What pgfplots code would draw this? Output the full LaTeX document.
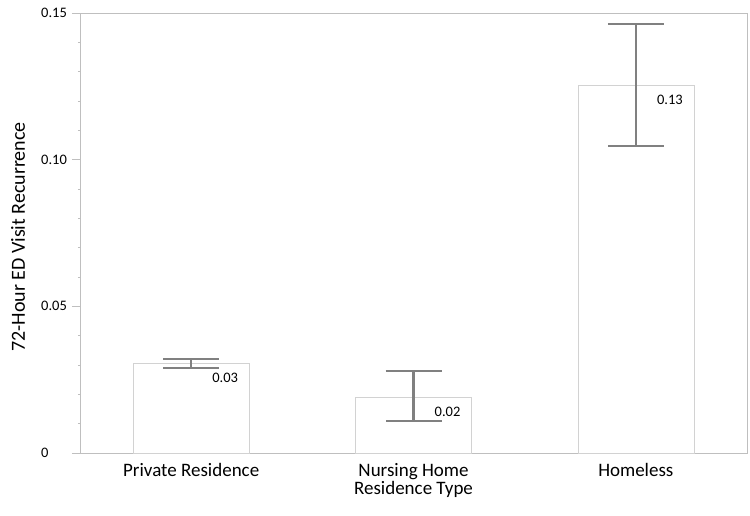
\documentclass[border=0pt]{standalone}
\usepackage{fontspec}
\setmainfont{Carlito}
\usepackage{pgfplots}
\pgfplotsset{compat=1.18}
\definecolor{framegray}{RGB}{191,191,191}
\definecolor{bargray}{RGB}{210,210,210}
\definecolor{errgray}{RGB}{128,128,128}
\pgfplotstableread{
x y ep em lab
0 0.0307 0.0013 0.0017 0.03
1 0.0191 0.0089 0.0082 0.02
2 0.1255 0.0208 0.0208 0.13
}\data
\begin{document}
\begin{tikzpicture}
\path[use as bounding box] (-80pt,-63pt) rectangle (670pt,453pt);
\begin{axis}[
  scale only axis, width=667pt, height=440pt,
  xmin=-0.5, xmax=2.5, ymin=0, ymax=0.15,
  xtick={0,1,2}, xticklabels={Private Residence, Nursing Home, Homeless},
  ytick={0,0.05,0.1,0.15}, yticklabels={0,0.05,0.10,0.15},
  minor y tick num=4,
  axis line style={framegray},
  tick align=outside,
  major tick length=8pt, minor tick length=2pt,
  every tick/.style={framegray},
  major x tick style={draw=none},
  xtick pos=bottom, ytick pos=left,
  yticklabel style={anchor=west, inner sep=0pt, xshift=-31pt, font=\fontsize{14.5}{16}\selectfont},
  xticklabel style={anchor=base, inner sep=0pt, yshift=-16pt, font=\fontsize{19}{22}\selectfont},
  xlabel={Residence Type},
  ylabel={72-Hour ED Visit Recurrence},
  xlabel style={at={(axis description cs:0.5,-0.0935)}, anchor=base, inner sep=0pt, font=\fontsize{19}{22}\selectfont},
  ylabel style={at={(axis description cs:-0.093,0.491)}, anchor=center, font=\fontsize{20}{23}\selectfont},
  clip=false,
]
\addplot[ybar, bar width=116pt, fill=white, draw=bargray,
  point meta=explicit symbolic,
  nodes near coords,
  every node near coord/.append style={anchor=west, inner sep=0pt, xshift=21pt, yshift=-15pt, font=\fontsize{14.5}{16}\selectfont, black},
  error bars/.cd, y dir=both, y explicit,
  error bar style={errgray, line width=2.2pt},
  error mark options={errgray, line width=2.2pt, rotate=90, mark size=28pt}]
  table[x=x, y=y, y error plus=ep, y error minus=em, meta=lab]{\data};
\end{axis}
\end{tikzpicture}
\end{document}
